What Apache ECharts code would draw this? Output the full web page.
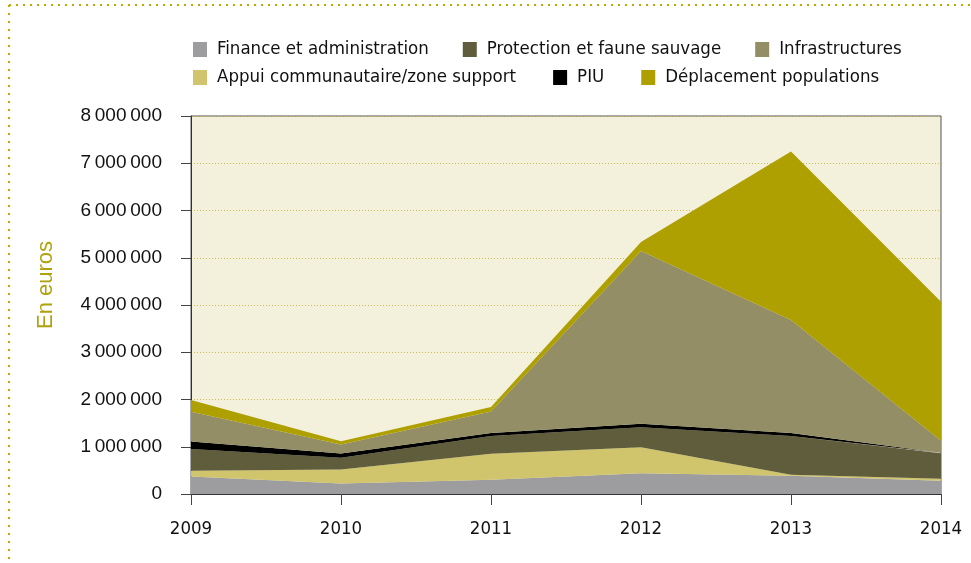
<!DOCTYPE html>
<html>
<head>
<meta charset="utf-8">
<script src="https://cdn.jsdelivr.net/npm/echarts@6/dist/echarts.min.js"></script>
<style>
  html, body { margin: 0; padding: 0; background: #ffffff; }
  #chart { width: 971px; height: 563px; }
</style>
</head>
<body>
<div id="chart"></div>
<script>
// Budget par composante, en euros (aires empilées)
const years = ['2009', '2010', '2011', '2012', '2013', '2014'];
const finance = [370000, 220000, 300000, 440000, 385000, 280000];
const appui = [120000, 300000, 550000, 550000, 25000, 45000];
const protection = [460000, 245000, 380000, 425000, 820000, 540000];
const piu = [160000, 90000, 60000, 70000, 60000, 10000];
const infrastructures = [630000, 190000, 455000, 3660000, 2390000, 250000];
const deplacement = [250000, 70000, 95000, 190000, 3570000, 2945000];

const seriesNames = [
  'Finance et administration',
  'Appui communautaire/zone support',
  'Protection et faune sauvage',
  'PIU',
  'Infrastructures',
  'Déplacement populations'
];
const seriesData = [finance, appui, protection, piu, infrastructures, deplacement];
const seriesColors = ['#9d9d9f', '#d0c46c', '#605d3c', '#000000', '#948e66', '#aea000'];

const legendRow1 = ['Finance et administration', 'Protection et faune sauvage', 'Infrastructures'];
const legendRow2 = ['Appui communautaire/zone support', 'PIU', 'Déplacement populations'];

const narrowFont = '"Liberation Sans Narrow", "DejaVu Sans Condensed", "Roboto Condensed", "Liberation Sans", sans-serif';
const regularFont = '"Liberation Sans", Arial, sans-serif';

function groupThousands(v) {
  return String(v).replace(/\B(?=(\d{3})+(?!\d))/g, '\u2009');
}

const chart = echarts.init(document.getElementById('chart'), null, { renderer: 'canvas' });

const legendBase = {
  orient: 'horizontal',
  left: 193,
  padding: 0,
  itemWidth: 14,
  itemHeight: 15,
  icon: 'rect',
  selectedMode: false,
  textStyle: {
    fontFamily: narrowFont,
    fontSize: 18.5,
    color: '#111111',
    padding: [0, 0, 0, 5]
  }
};

chart.setOption({
  animation: false,
  backgroundColor: '#ffffff',
  legend: [
    Object.assign({}, legendBase, { top: 40, itemGap: 34, data: legendRow1 }),
    Object.assign({}, legendBase, { top: 68, itemGap: 37, data: legendRow2 })
  ],
  grid: {
    left: 191,
    right: 30,
    top: 116,
    bottom: 69,
    show: true,
    backgroundColor: '#f3f0dc',
    borderColor: '#555555',
    borderWidth: 1
  },
  xAxis: {
    type: 'category',
    data: years,
    boundaryGap: false,
    axisLine: { show: true, lineStyle: { color: '#333333', width: 1 } },
    axisTick: { show: true, length: 11, lineStyle: { color: '#444444' } },
    axisLabel: {
      margin: 26,
      fontFamily: narrowFont,
      fontSize: 18.5,
      color: '#111111'
    },
    splitLine: { show: false }
  },
  yAxis: {
    type: 'value',
    min: 0,
    max: 8000000,
    interval: 1000000,
    axisLine: { show: true, lineStyle: { color: '#333333', width: 1 } },
    axisTick: { show: true, length: 10, lineStyle: { color: '#444444' } },
    axisLabel: {
      margin: 29,
      fontFamily: regularFont,
      fontSize: 19,
      color: '#111111',
      formatter: groupThousands
    },
    splitLine: {
      show: true,
      lineStyle: { color: '#cdbd52', type: [1, 2], width: 1 }
    }
  },
  series: seriesNames.map(function (name, i) {
    return {
      name: name,
      type: 'line',
      stack: 'budget',
      data: seriesData[i],
      symbol: 'none',
      showSymbol: false,
      lineStyle: { width: 0 },
      areaStyle: { color: seriesColors[i], opacity: 1 },
      itemStyle: { color: seriesColors[i] },
      z: 2
    };
  }),
  graphic: [
    {
      type: 'text',
      x: 46,
      y: 285,
      rotation: Math.PI / 2,
      style: {
        text: 'En euros',
        fill: '#b0a10e',
        font: '300 22px "Liberation Sans", Arial, sans-serif',
        align: 'center',
        verticalAlign: 'middle'
      }
    },
    {
      type: 'line',
      shape: { x1: 9, y1: 5, x2: 971, y2: 5 },
      style: { stroke: '#bca800', lineWidth: 2, lineDash: [2, 5] }
    },
    {
      type: 'line',
      shape: { x1: 9, y1: 5, x2: 9, y2: 563 },
      style: { stroke: '#bca800', lineWidth: 2, lineDash: [2, 6] }
    }
  ]
});
</script>
</body>
</html>
